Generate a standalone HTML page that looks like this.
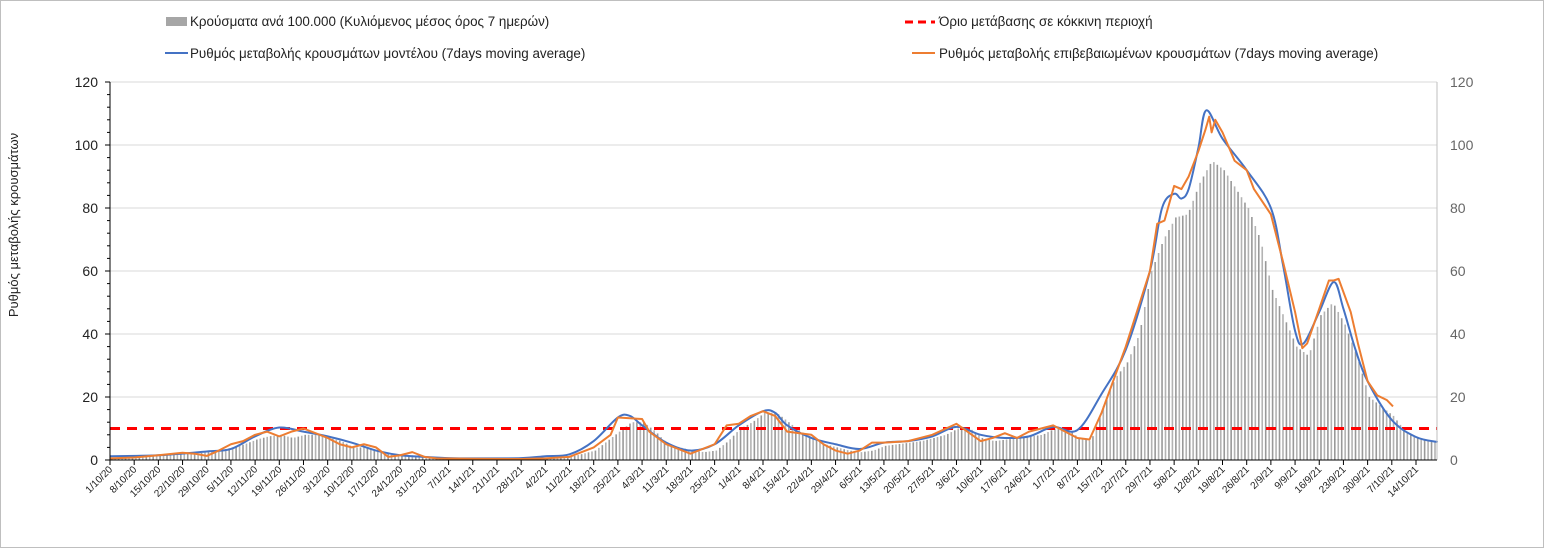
<!DOCTYPE html>
<html><head><meta charset="utf-8"><style>
html,body{margin:0;padding:0;background:#fff;}
svg{display:block;font-family:"Liberation Sans",sans-serif;}
</style></head><body>
<svg id="chart" width="1545" height="550" viewBox="0 0 1545 550" xmlns="http://www.w3.org/2000/svg">
<rect x="0.5" y="0.5" width="1543" height="547" fill="#fff" stroke="#bfbfbf"/>
<g font-size="13.4" fill="#222">
 <rect x="166" y="17" width="21" height="9" fill="#a6a6a6"/>
 <text x="190" y="26">Κρούσματα ανά 100.000 (Κυλιόμενος μέσος όρος 7 ημερών)</text>
 <line x1="905" y1="22" x2="935" y2="22" stroke="#ff0000" stroke-width="3" stroke-dasharray="8,5"/>
 <text x="939" y="26">Όριο μετάβασης  σε κόκκινη περιοχή</text>
 <line x1="165" y1="53" x2="188" y2="53" stroke="#4472c4" stroke-width="2"/>
 <text x="190" y="58">Ρυθμός μεταβολής κρουσμάτων μοντέλου (7days moving average)</text>
 <line x1="912" y1="53" x2="935" y2="53" stroke="#ed7d31" stroke-width="2"/>
 <text x="939" y="58">Ρυθμός μεταβολής επιβεβαιωμένων κρουσμάτων (7days moving average)</text>
</g>
<text transform="translate(18,225) rotate(-90)" text-anchor="middle" font-size="13" fill="#222">Ρυθμός μεταβολής κρουσμάτων</text>
<g id="grid"></g><g id="bars"></g><g id="lines"></g><g id="axes"></g>
</svg>
<script>
const weekLabels=["1/10/20","8/10/20","15/10/20","22/10/20","29/10/20","5/11/20","12/11/20","19/11/20","26/11/20","3/12/20","10/12/20","17/12/20","24/12/20","31/12/20","7/1/21","14/1/21","21/1/21","28/1/21","4/2/21","11/2/21","18/2/21","25/2/21","4/3/21","11/3/21","18/3/21","25/3/21","1/4/21","8/4/21","15/4/21","22/4/21","29/4/21","6/5/21","13/5/21","20/5/21","27/5/21","3/6/21","10/6/21","17/6/21","24/6/21","1/7/21","8/7/21","15/7/21","22/7/21","29/7/21","5/8/21","12/8/21","19/8/21","26/8/21","2/9/21","9/9/21","16/9/21","23/9/21","30/9/21","7/10/21","14/10/21"];
const yTicks=[0,20,40,60,80,100,120];
const threshold=10;
const barHalfWeek=[0.5,0.5,0.8,1,1.5,1.5,2,2,2.5,3,4,5,6.5,7.5,8,7,8,8,7,6,4,4,3,2,1.5,1.5,0.8,0.5,0.4,0.4,0.3,0.3,0.3,0.3,0.4,0.5,0.6,0.8,1,2,3,6,9,12,12,9,5,4,3,2.5,3,6,10,12,15,15,12,9,7,5,4,3,2.5,3,4.5,5,5.5,6,7,8,10,10,7,6,6.5,7,7.5,8,10,10,7,6,17,26,31,40,60,70,77,78,88,95,92,86,80,70,54,45,36,33,46,50,43,33,20,17,14,9,7,6];
const modelWeeks=[0,2,4,5,6,7,8,9,10,11,12,13,14,15,17,18,19,20,21,21.5,22,23,24,25,26,27,27.5,28,29,30,31,32,33,34,35,36,37,38,39,40,41,42,43,43.5,44,44.3,44.6,45,45.33,46,47,48,48.5,49,49.35,50,50.6,51,51.5,52,53,54,54.9];
const modelVals=[1.2,1.5,2.7,3.5,7.5,10.3,9,7.5,5.5,3,1.5,1,0.6,0.5,0.6,1.2,1.8,6,13.5,14,11,5.5,3,5,11,15.5,15,11,7,5,3.5,5.5,6,7.5,10.5,8,7,7.5,10.5,9.5,21,35,60,80,84.5,83,86,99,111,102,92,80,62,41,37,47,56.5,48,35,25,12.7,7.3,5.7];
const confWeeks=[0,1,2,3,3.5,4,4.5,5,5.5,6,6.5,7,7.5,8,8.5,9,9.5,10,10.5,11,11.5,12,12.5,13,13.5,15,17,18,19,20,20.7,21,22,22.3,23,24,25,25.5,26,26.5,27,27.5,28,29,29.5,30,30.5,31,31.5,32,33,34,35,36,36.5,37,37.5,38,39,40,40.5,41,42,43,43.3,43.6,44,44.3,44.6,45,45.3,45.45,45.55,45.7,46,46.5,47,47.3,48,48.5,49,49.3,49.5,50,50.4,50.6,50.8,51.3,51.6,52,52.4,52.8,53.05];
const confVals=[0.5,0.8,1.5,2.3,2,1.3,3,5,6,8,9,7.5,9,10,8.5,7,5,4,5,4,1,1.5,2.5,1,0.5,0.4,0.3,0.5,1,4,8,13.5,13,9,5,2,5,11,11.5,14,15.5,14,9,8,5,3,2,3,5.5,5.5,6,8,11.5,6,7,8.5,7,9,11,7,6.5,15,36,60,75,76,87,86,90,98,105,109,104,108,104,95,92,86,78,63,47,35.5,37,48,57,57,57.5,47,37,25,20.5,19,17];

const NS="http://www.w3.org/2000/svg";
const X0=110,X1=1437,Y0=460,Y1=82,DAY=3.455;
const xW=w=>X0+w*7*DAY;
const xD=d=>X0+d*DAY;
const y=v=>Y0-(v/120)*(Y0-Y1);
function mk(tag,attrs,parent){const e=document.createElementNS(NS,tag);for(const k in attrs)e.setAttribute(k,attrs[k]);document.getElementById(parent).appendChild(e);return e;}
function smoothPath(pts){let d='M'+pts[0][0]+','+pts[0][1];
  for(let i=0;i<pts.length-1;i++){const p0=pts[i-1]||pts[i],p1=pts[i],p2=pts[i+1],p3=pts[i+2]||p2;
    const c1=[p1[0]+(p2[0]-p0[0])/6,p1[1]+(p2[1]-p0[1])/6],c2=[p2[0]-(p3[0]-p1[0])/6,p2[1]-(p3[1]-p1[1])/6];
    d+=` C${c1[0]},${c1[1]} ${c2[0]},${c2[1]} ${p2[0]},${p2[1]}`;}
  return d;}

yTicks.forEach(t=>{
  if(t>0){const g=mk('line',{x1:X0,x2:X1,y1:y(t),y2:y(t),stroke:'#d9d9d9','stroke-width':1},'grid');
  
  }
  const l=mk('text',{x:98,y:y(t)+5,'text-anchor':'end','font-size':14,fill:'#222'},'axes');l.textContent=t;
  
  
  const r=mk('text',{x:1450,y:y(t)+5,'font-size':14,fill:'#666'},'axes');r.textContent=t;
  
  
  const tk=mk('line',{x1:X0-5,x2:X0,y1:y(t),y2:y(t),stroke:'#000'},'axes');
  
  
});
for(let v=4;v<120;v+=4){if(v%20===0)continue;const m=mk('line',{x1:X0-3,x2:X0,y1:y(v),y2:y(v),stroke:'#000'},'axes');

}

for(let d=0;d<=383;d++){
  const h=d/3.5, j=Math.min(barHalfWeek.length-1,Math.floor(h));
  const j2=Math.min(barHalfWeek.length-1,j+1), f=h-j;
  const v=barHalfWeek[j]*(1-f)+barHalfWeek[j2]*f;
  const b=mk('rect',{x:xD(d+0.5)-0.8,y:y(v),width:1.6,height:Y0-y(v),fill:(d%2?'#b3b3b3':'#999')},'bars');
  
  
}

const th=mk('line',{x1:X0,x2:X1,y1:y(threshold),y2:y(threshold),stroke:'#ff0000','stroke-width':3,'stroke-dasharray':'10,7'},'lines');



const mp=mk('path',{d:smoothPath(modelWeeks.map((w,i)=>[xW(w),y(modelVals[i])])),fill:'none',stroke:'#4472c4','stroke-width':2,'stroke-linejoin':'round'},'lines');


const cp=mk('polyline',{points:confWeeks.map((w,i)=>xW(w)+','+y(confVals[i])).join(' '),fill:'none',stroke:'#ed7d31','stroke-width':2,'stroke-linejoin':'round'},'lines');



const la=mk('line',{x1:X0,x2:X0,y1:Y1,y2:Y0,stroke:'#000'},'axes');


const ra=mk('line',{x1:X1,x2:X1,y1:Y1,y2:Y0,stroke:'#bfbfbf'},'axes');


const xa=mk('line',{x1:X0,x2:X1,y1:Y0,y2:Y0,stroke:'#000'},'axes');


weekLabels.forEach((s,i)=>{
  const x=xW(i);
  const tk=mk('line',{x1:x,x2:x,y1:Y0,y2:Y0+5,stroke:'#000'},'axes');
  
  
  const t=mk('text',{x:x+3,y:Y0+10,'text-anchor':'end','font-size':10,fill:'#222',transform:`rotate(-45 ${x+3} ${Y0+10})`},'axes');
  t.textContent=s;
  
  
});
</script>
</body></html>
